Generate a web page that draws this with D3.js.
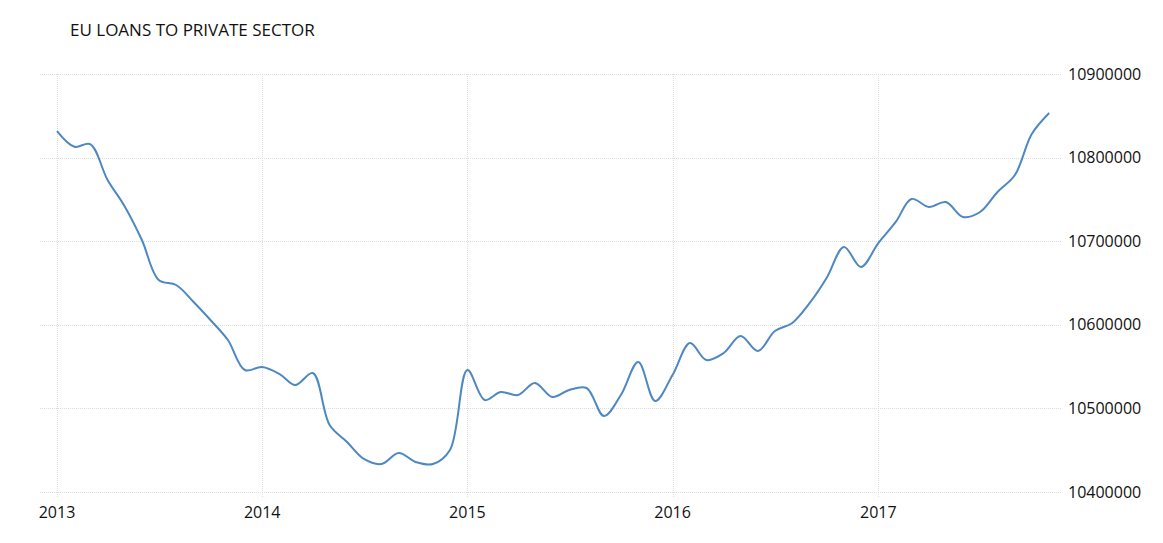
<!DOCTYPE html>
<html><head><meta charset="utf-8">
<script src="https://cdn.jsdelivr.net/npm/d3@7"></script>
<style>body{margin:0;background:#fff}svg{display:block}</style>
</head><body>
<svg id="chart" width="1163" height="543"></svg>
<script>
const title = "EU LOANS TO PRIVATE SECTOR";
const startYear = 2013, startMonth = 0;
const values = [
 10831800,10813000,10816000,10773200,10742100,10701400,10653600,10647600,10627300,10605700,10581800,10545900,
 10549500,10541100,10528000,10542300,10480100,10459800,10439500,10433500,10446700,10435900,10433500,10450200,
 10545900,10510000,10519600,10516000,10530400,10513600,10522000,10524400,10490900,10516000,10555500,10508900,
 10540000,10578200,10557900,10566300,10586600,10568700,10592600,10602200,10626100,10656000,10693100,10669100,
 10697800,10723000,10750500,10740900,10746900,10728900,10734900,10758900,10779200,10828200,10853300
];
const yTicks = [10400000,10500000,10600000,10700000,10800000,10900000];
const xTickYears = [2013,2014,2015,2016,2017];

const data = values.map((v,i)=>({date:new Date(startYear, startMonth+i, 1), value:v}));
const svg = d3.select("#chart");
const font = "'Open Sans', sans-serif";

const x = d3.scaleTime().domain([new Date(2013,0,1), new Date(2018,0,1)]).range([57, 57+205.3*5]);
const y = d3.scaleLinear().domain([10400000,10900000]).range([492, 74]);

svg.append("text").attr("x",70).attr("y",36).attr("font-family",font).attr("font-size",17)
  .attr("fill","#111").text(title);

// horizontal grid
svg.append("g").selectAll("line").data(yTicks).join("line")
  .attr("x1",40).attr("x2",1062).attr("y1",d=>Math.round(y(d))+0.5).attr("y2",d=>Math.round(y(d))+0.5)
  .attr("stroke","#dcdcdc").attr("stroke-width",1).attr("stroke-dasharray","1,1");
// vertical grid
svg.append("g").selectAll("line").data(xTickYears).join("line")
  .attr("x1",d=>Math.round(x(new Date(d,0,1)))+0.5).attr("x2",d=>Math.round(x(new Date(d,0,1)))+0.5)
  .attr("y1",74).attr("y2",497)
  .attr("stroke","#dcdcdc").attr("stroke-width",1).attr("stroke-dasharray","1,1");

// y labels
svg.append("g").selectAll("text").data(yTicks).join("text")
  .attr("x",1068).attr("y",d=>y(d)).attr("dy","0.35em")
  .attr("font-family",font).attr("font-size",16).attr("fill","#111").text(d=>d);
// x labels
svg.append("g").selectAll("text").data(xTickYears).join("text")
  .attr("x",d=>x(new Date(d,0,1))).attr("y",518).attr("text-anchor","middle")
  .attr("font-family",font).attr("font-size",16).attr("fill","#111").text(d=>d);

const line = d3.line().x(d=>x(d.date)).y(d=>y(d.value)).curve(d3.curveCatmullRom.alpha(0.5));
svg.append("path").datum(data).attr("d",line).attr("fill","none")
  .attr("stroke","#4d88c2").attr("stroke-width",2);
</script>
</body></html>
